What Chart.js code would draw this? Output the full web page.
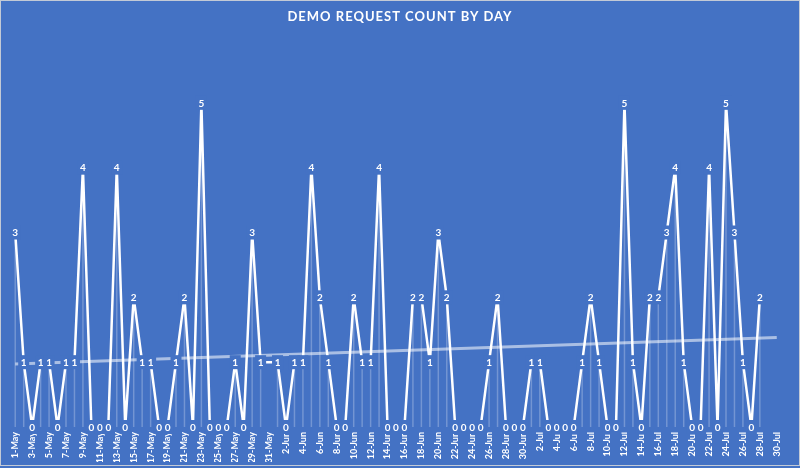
<!DOCTYPE html>
<html lang="en">
<head>
    <meta charset="UTF-8">
    <title>Demo Request Count by Day</title>
    <script src="https://cdn.jsdelivr.net/npm/chart.js"></script>
    <style>
        body { margin: 0; background: #4472C4; }
        #wrap { width: 800px; height: 468px; position: relative; }
    </style>
</head>
<body>
    <div id="wrap"><canvas id="demoChart"></canvas></div>

    <script>
        // one label per day, 1-May .. 30-Jul
        const mayDays = Array.from({ length: 31 }, (_, i) => (i + 1) + '-May');
        const junDays = Array.from({ length: 30 }, (_, i) => (i + 1) + '-Jun');
        const julDays = Array.from({ length: 30 }, (_, i) => (i + 1) + '-Jul');
        const days = [...mayDays, ...junDays, ...julDays];

        // request counts (null = no entry)
        const mayCounts = [3, 1, 0, 1, 1, 0, 1, 1, 4, 0, 0, 0, 4, 0, 2, 1, 1, 0, 0, 1, 2, 0, 5, 0, 0, 0, 1, 0, 3, 1, null];
        const junCounts = [1, 0, 1, 1, 4, 2, 1, 0, 0, 2, 1, 1, 4, 0, 0, 0, 2, 2, 1, 3, 2, 0, 0, 0, 0, 1, 2, 0, 0, 0];
        const julCounts = [1, 1, 0, 0, 0, 0, 1, 2, 1, 0, 0, 5, 1, 0, 2, 2, 3, 4, 1, 0, 0, 4, 0, 5, 3, 1, 0, 2, null, null];
        const counts = [...mayCounts, ...junCounts, ...julCounts];

        // linear trend, value at first and last day
        const trendEnds = [0.97, 1.38];
        const trend = days.map((d, i) => i === 0 ? trendEnds[0] : (i === days.length - 1 ? trendEnds[1] : null));

        const BLUE = '#4472C4';
        const FONT = 'Lato, "Open Sans", sans-serif';

        const chartDeco = {
            id: 'chartDeco',
            beforeDraw(chart) {
                const { ctx, width, height } = chart;
                ctx.save();
                ctx.fillStyle = BLUE;
                ctx.fillRect(0, 0, width, height);
                ctx.strokeStyle = '#c3cad6';
                ctx.lineWidth = 1;
                ctx.strokeRect(0.5, 0.5, width - 1, height - 3);
                ctx.restore();
            },
            beforeDatasetsDraw(chart) {
                // faint drop lines from each point to the axis
                const { ctx } = chart;
                const meta = chart.getDatasetMeta(0);
                const base = chart.scales.y.getPixelForValue(0);
                ctx.save();
                ctx.strokeStyle = 'rgba(255,255,255,0.25)';
                ctx.lineWidth = 1.5;
                meta.data.forEach((pt, i) => {
                    if (counts[i] === null) return;
                    ctx.beginPath();
                    ctx.moveTo(pt.x, pt.y);
                    ctx.lineTo(pt.x, base);
                    ctx.stroke();
                });
                ctx.restore();
            },
            afterDatasetsDraw(chart) {
                // value labels centred on points, boxed in the background colour
                const { ctx } = chart;
                const meta = chart.getDatasetMeta(0);
                ctx.save();
                ctx.font = 'bold 10px ' + FONT;
                ctx.textAlign = 'center';
                ctx.textBaseline = 'middle';
                meta.data.forEach((pt, i) => {
                    if (counts[i] === null) return;
                    ctx.fillStyle = BLUE;
                    ctx.fillRect(pt.x - 5.5, pt.y - 7, 11, 14);
                    ctx.fillStyle = '#ffffff';
                    ctx.fillText(String(counts[i]), pt.x, pt.y + 0.5);
                });
                ctx.restore();
            },
            afterDraw(chart) {
                const { ctx, width } = chart;
                ctx.save();
                ctx.font = 'bold 13px ' + FONT;
                ctx.letterSpacing = '1px';
                ctx.fillStyle = '#ffffff';
                ctx.textAlign = 'center';
                ctx.textBaseline = 'middle';
                ctx.fillText('DEMO REQUEST COUNT BY DAY', width / 2, 17);
                ctx.restore();
            }
        };

        const ctx = document.getElementById('demoChart').getContext('2d');
        new Chart(ctx, {
            type: 'line',
            data: {
                labels: days,
                datasets: [
                    {
                        label: 'Requests',
                        data: counts,
                        borderColor: '#ffffff',
                        borderWidth: 2.5,
                        borderJoinStyle: 'round',
                        pointRadius: 0,
                        tension: 0,
                        spanGaps: true
                    },
                    {
                        label: 'Trend',
                        data: trend,
                        borderColor: 'rgba(255,255,255,0.55)',
                        borderWidth: 3,
                        pointRadius: 0,
                        spanGaps: true
                    }
                ]
            },
            options: {
                responsive: true,
                maintainAspectRatio: false,
                animation: false,
                layout: { padding: { left: 11, right: 19, top: 38, bottom: 6 } },
                plugins: {
                    legend: { display: false },
                    tooltip: { enabled: false },
                    title: { display: false }
                },
                scales: {
                    x: {
                        offset: true,
                        grid: { display: false, drawTicks: false },
                        border: { display: false },
                        afterFit: (scale) => { scale.height = 35; },
                        ticks: {
                            autoSkip: false,
                            minRotation: 90,
                            maxRotation: 90,
                            padding: 5,
                            color: '#ffffff',
                            font: { family: FONT, size: 9, weight: 'bold' },
                            callback: (v, i) => i % 2 === 0 ? days[i] : ''
                        }
                    },
                    y: {
                        display: false,
                        min: 0,
                        max: 6
                    }
                }
            },
            plugins: [chartDeco]
        });
    </script>
</body>
</html>
